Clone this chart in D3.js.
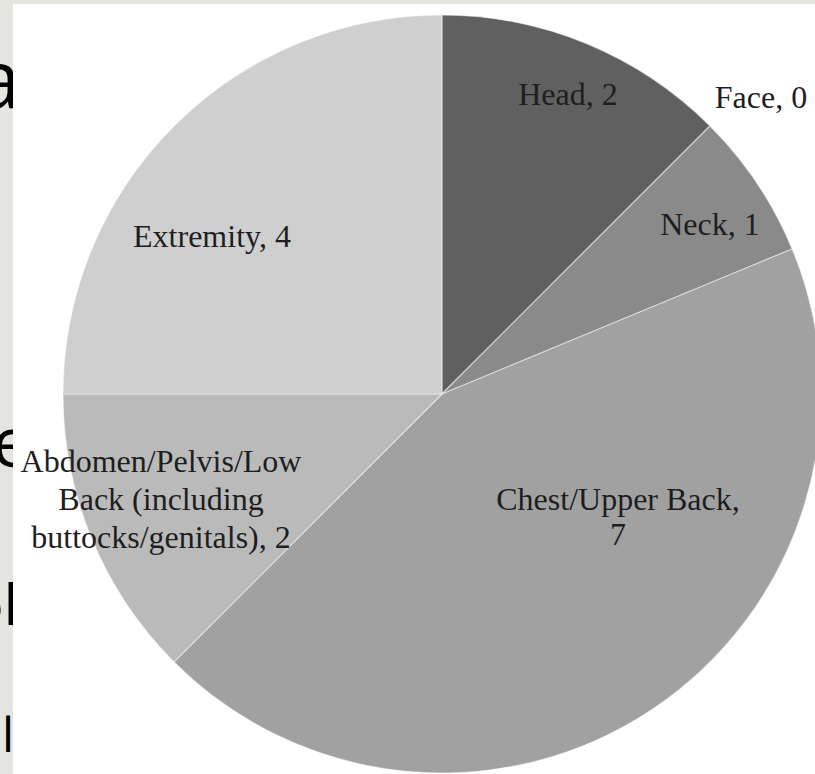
<!DOCTYPE html>
<html><head><meta charset="utf-8">
<script src="https://cdn.jsdelivr.net/npm/d3@7"></script>
<style>html,body{margin:0;padding:0;background:#fff;overflow:hidden}</style>
</head><body><svg id="c" width="815" height="774"></svg>
<script>
// ---- data ----
const categories = ["Head", "Face", "Neck", "Chest/Upper Back", "Abdomen/Pelvis/Low Back (including buttocks/genitals)", "Extremity"];
const values = [2, 0, 1, 7, 2, 4];
const labelLines = [
  ["Head, 2"],
  ["Face, 0"],
  ["Neck, 1"],
  ["Chest/Upper Back,", "7"],
  ["Abdomen/Pelvis/Low", "Back (including", "buttocks/genitals), 2"],
  ["Extremity, 4"]
];
const sliceColors = ["#606060", "#8a8a8a", "#8a8a8a", "#a1a1a1", "#bababa", "#cfcfcf"];

// ---- layout (label anchor offsets from pie centre, in radius units) ----
const W = 815, H = 774;
const cx = 442, cy = 394, R = 379;
const labelOffsets = [
  [126 / R, -289 / R, 0],
  [319 / R, -286 / R, 0],
  [268 / R, -159 / R, 0],
  [176 / R, 116 / R, 35],
  [-281 / R, 78 / R, 38],
  [-230 / R, -147 / R, 0]
];

const svg = d3.select("#c");

// slide background strip with clipped text fragments
svg.append("rect").attr("width", W).attr("height", H).attr("fill", "#e5e5df");
const frag = svg.append("g").attr("font-family", "'Open Sans', sans-serif").attr("fill", "#000");
frag.append("text").attr("x", -24).attr("y", 108).attr("font-size", 80).text("a");
frag.append("text").attr("x", -8).attr("y", 467).attr("font-size", 70).text("e");
frag.append("text").attr("x", -30).attr("y", 625).attr("font-size", 56).text("ol");
frag.append("text").attr("x", 2).attr("y", 752).attr("font-size", 48).text("l");
svg.append("rect").attr("x", 13).attr("y", 4).attr("width", W - 13).attr("height", H - 4).attr("fill", "#ffffff");

const pie = d3.pie().sort(null).value(d => d.value);
const arcs = pie(categories.map((c, i) => ({ cat: c, value: values[i], i })));
const arc = d3.arc().innerRadius(0).outerRadius(R);

const g = svg.append("g").attr("transform", `translate(${cx},${cy})`);
g.selectAll("path.slice").data(arcs).join("path")
  .attr("class", "slice")
  .attr("d", arc)
  .attr("fill", d => sliceColors[d.data.i])
  .attr("stroke", "rgba(255,255,255,0.45)")
  .attr("stroke-width", 1.2);

const x = d3.scaleLinear().domain([-1, 1]).range([-R, R]);
const lab = g.selectAll("text.lab").data(arcs).join("text")
  .attr("class", "lab")
  .attr("font-family", "'Liberation Serif', 'Times New Roman', serif")
  .attr("font-size", 32)
  .attr("fill", "#1e1e1e")
  .attr("text-anchor", "middle");
lab.each(function (d) {
  const o = labelOffsets[d.data.i];
  const t = d3.select(this);
  labelLines[d.data.i].forEach((line, k) => {
    t.append("tspan").attr("x", x(o[0])).attr("y", x(o[1]) + k * o[2]).text(line);
  });
});
</script>
</body></html>
